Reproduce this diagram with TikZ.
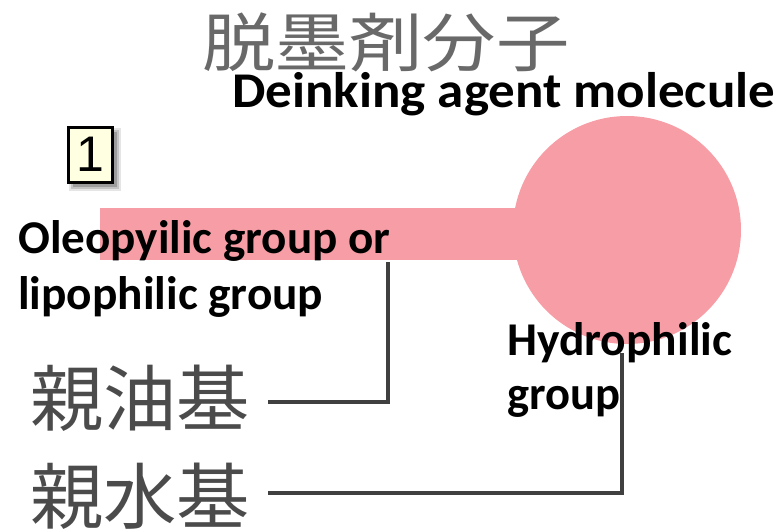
\documentclass[tikz,border=0pt]{standalone}
\usepackage{fontspec}
\usepackage{graphicx}
\setmainfont{Carlito}
\newfontfamily\jpfont{Noto Sans CJK JP}
\newfontfamily\digitfont{Liberation Sans}
\definecolor{pinkfill}{RGB}{247,157,165}
\definecolor{linegray}{RGB}{64,64,64}
\definecolor{shadowgray}{RGB}{200,200,200}
\definecolor{jpgray}{RGB}{75,75,75}
\definecolor{titlegray}{RGB}{105,105,105}
\definecolor{boxyellow}{RGB}{255,255,225}
\begin{document}
\begin{tikzpicture}[x=1pt,y=-1pt,
  lbl/.style={anchor=base west, inner sep=0pt, text=black, font=\bfseries\fontsize{47}{47}\selectfont},
  jp/.style={inner sep=0pt, text=jpgray, font=\jpfont\fontsize{72}{72}\selectfont},
  conn/.style={draw=linegray, line width=4pt},
  connshadow/.style={draw=shadowgray, line width=4pt, xshift=2pt, yshift=-2pt},
  numbox/.style={draw=black, line width=3pt, fill=boxyellow, minimum width=44, minimum height=55, inner sep=0pt}]
\useasboundingbox (0,0) rectangle (780,531);
% molecule shape
\fill[pinkfill] (100,208) rectangle (627,260);
\fill[pinkfill] (627,230) circle[radius=114];
% connectors
\coordinate (oleoTop) at (388,262);
\coordinate (oleoEnd) at (268,402);
\coordinate (hydroTop) at (622,353);
\coordinate (hydroEnd) at (268,493);
\draw[connshadow] (oleoTop) |- (oleoEnd);
\draw[conn] (oleoTop) |- (oleoEnd);
\draw[connshadow] (hydroTop) |- (hydroEnd);
\draw[conn] (hydroTop) |- (hydroEnd);
% title
\node[jp, text=titlegray, font=\jpfont\fontsize{64}{64}\selectfont] (title) at (386,42) {\resizebox{367pt}{\height}{脱墨剤分子}};
\node[lbl, font=\bfseries\fontsize{50}{50}\selectfont] (deink) at (232,107) {\resizebox{543pt}{\height}{Deinking agent molecule}};
% number box
\fill[black, opacity=0.10] (69,128) rectangle (121,191);
\fill[black, opacity=0.15] (71,130) rectangle (119,189);
\fill[black, opacity=0.20] (73,132) rectangle (117,187);
\node[numbox] (num) at (90,154.5) {\digitfont\fontsize{50}{50}\selectfont 1};
% labels
\node[lbl] (oleo1) at (18,253) {\resizebox{372pt}{\height}{Oleopyilic group or}};
\node[lbl] (oleo2) at (18,309) {\resizebox{305pt}{\height}{lipophilic group}};
\node[lbl] (hydro1) at (507,355) {\resizebox{225pt}{\height}{Hydrophilic}};
\node[lbl] (hydro2) at (507,409) {\resizebox{113pt}{\height}{group}};
\node[jp] (jpoil) at (140,398) {\resizebox{220pt}{\height}{親油基}};
\node[jp] (jpwater) at (140,496) {\resizebox{220pt}{\height}{親水基}};
\end{tikzpicture}
\end{document}
